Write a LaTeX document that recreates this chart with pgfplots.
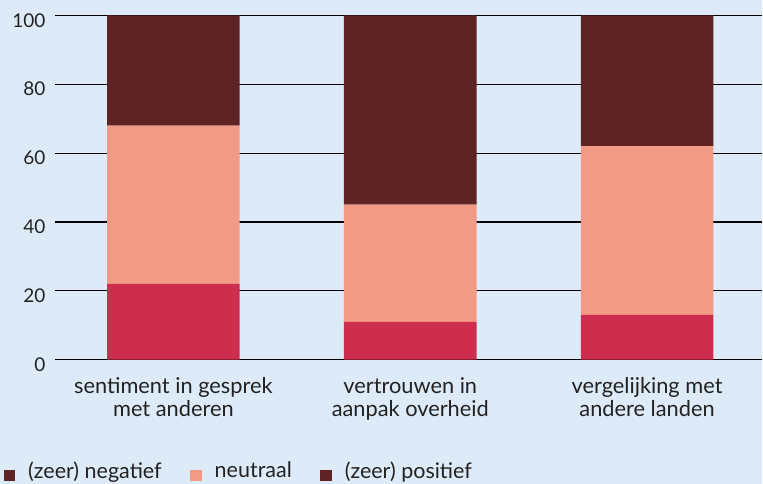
\documentclass[border=0pt]{standalone}
\usepackage{pgfplots}
\pgfplotsset{compat=1.18}
\usepackage{fontspec}
\setmainfont{Lato}
\definecolor{bgblue}{HTML}{DDEBF8}
\definecolor{negc}{HTML}{CD2E4E}
\definecolor{neuc}{HTML}{F39A87}
\definecolor{posc}{HTML}{5E2325}
\definecolor{txt}{HTML}{222222}

\begin{document}
\begin{tikzpicture}
\fill[bgblue] (0,0) rectangle (763pt,484pt);
\begin{axis}[
  at={(55pt,124pt)}, anchor=south west,
  width=708pt, height=344.7pt, scale only axis,
  xmin=-0.5, xmax=2.487, ymin=0, ymax=100,
  ybar stacked, bar width=0.56,
  axis line style={draw=none}, tick style={draw=none},
  ytick={0,20,...,100}, ymajorgrids,
  grid style={black, line width=1.1pt},
  xtick={0,1,2},
  xticklabels={{sentiment in gesprek\\met anderen},{vertrouwen in\\aanpak overheid},{vergelijking met\\andere landen}},
  yticklabel style={font=\fontsize{19}{23}\selectfont, text=txt, anchor=east, xshift=-6pt, yshift=-5pt},
  xticklabel style={font=\fontsize{21.8}{23.5}\selectfont, text=txt, align=center, yshift=-14pt},
  /pgf/number format/assume math mode=true,
  legend style={at={(axis description cs:-0.077,-0.322)}, anchor=west,
    draw=none, fill=none, legend columns=-1,
    font=\fontsize{21.5}{23}\selectfont, text=txt,
    /tikz/every even column/.append style={column sep=26.5pt}},
  legend image code/.code={\fill (0pt,-10.5pt) rectangle (11.5pt,1pt); \path (22.5pt,0);},
]
\addplot[fill=negc, draw=none, forget plot] coordinates {(0,22) (1,11) (2,13)};
\addplot[fill=neuc, draw=none, forget plot] coordinates {(0,46) (1,34) (2,49)};
\addplot[fill=posc, draw=none, forget plot] coordinates {(0,32) (1,55) (2,38)};
\addlegendimage{fill=posc, draw=none}
\addlegendentry{(zeer) negatief}
\addlegendimage{fill=neuc, draw=none}
\addlegendentry{neutraal}
\addlegendimage{fill=posc, draw=none}
\addlegendentry{(zeer) positief}
\end{axis}
\end{tikzpicture}
\end{document}
